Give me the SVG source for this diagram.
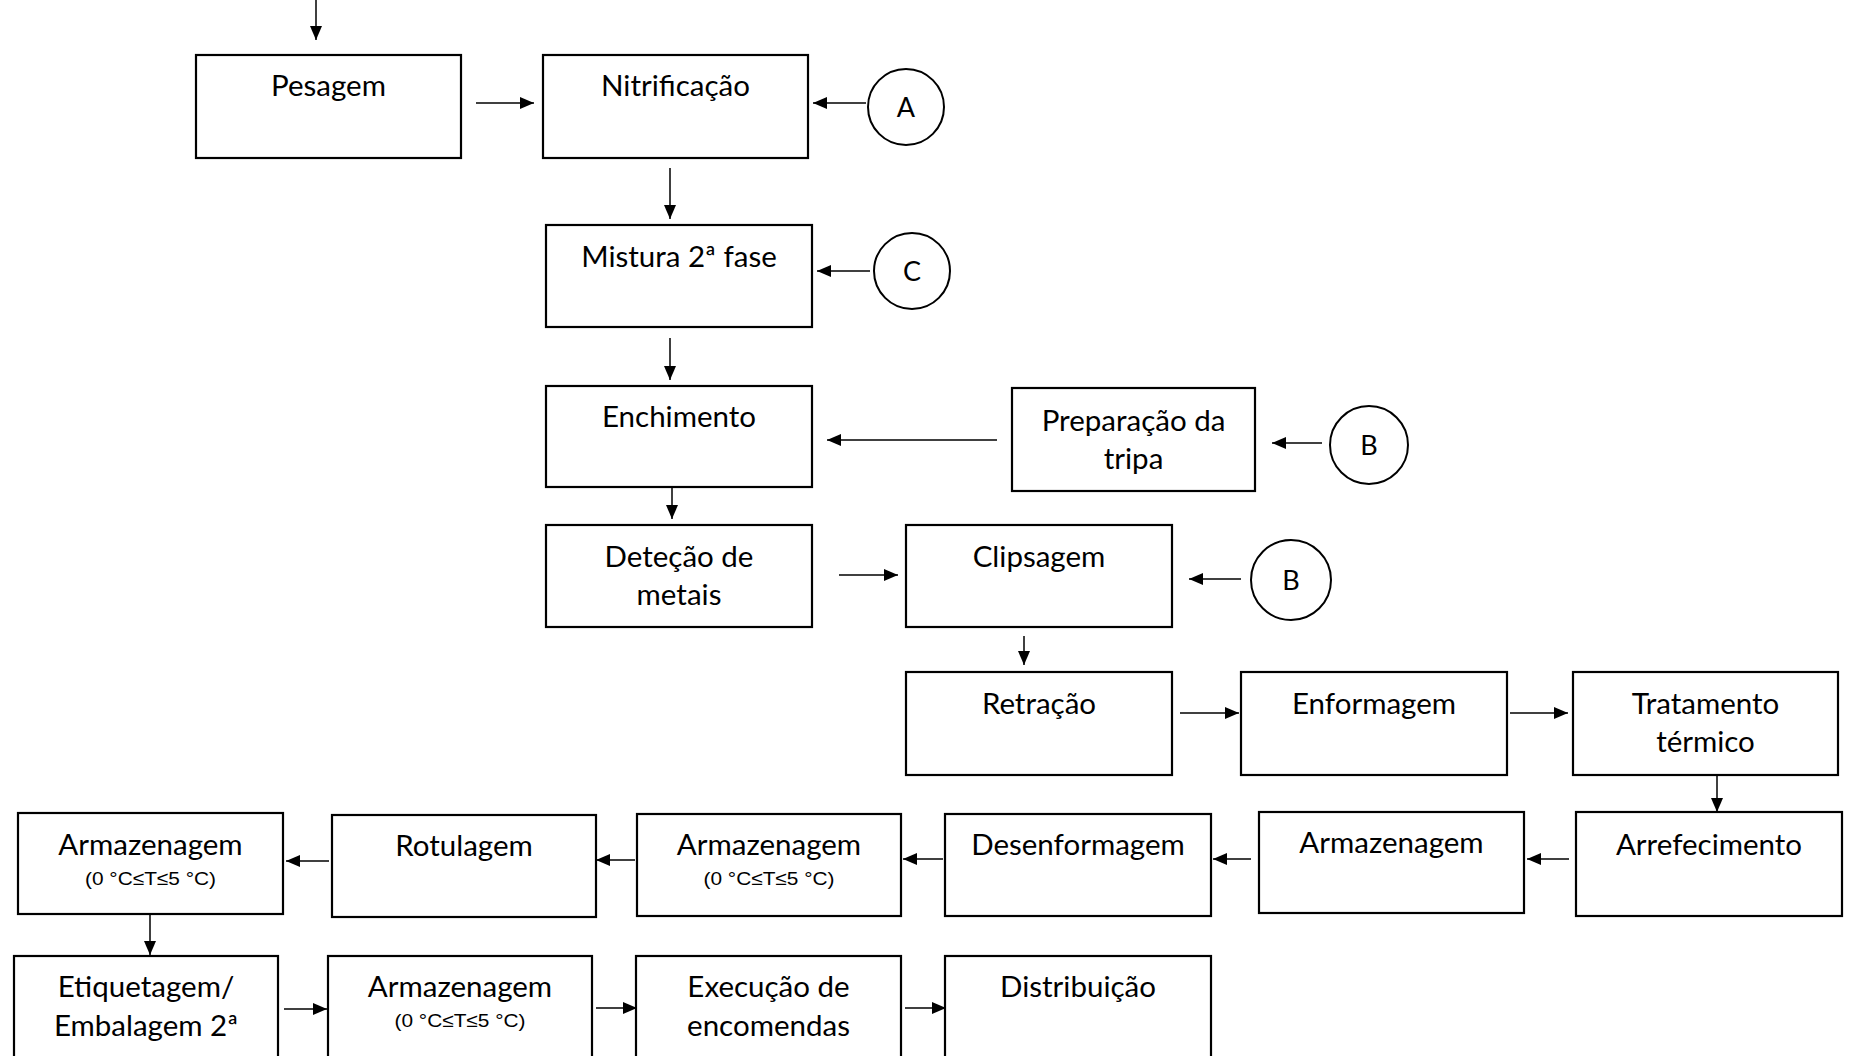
<svg xmlns="http://www.w3.org/2000/svg" width="1850" height="1056" viewBox="0 0 1850 1056">
<defs>
<marker id="ah" markerWidth="14" markerHeight="12" refX="14" refY="6" orient="auto" markerUnits="userSpaceOnUse">
<path d="M0,0 L14,6 L0,12 Z" fill="#000"/>
</marker>
<style>
.box{fill:#fff;stroke:#000;stroke-width:2.2}
.circ{fill:#fff;stroke:#000;stroke-width:2}
.t{font-family:Lato,"Open Sans",sans-serif;font-size:29.5px;fill:#000;text-anchor:middle}
.l{font-size:27px}
.s{font-family:"Liberation Sans",Arial,sans-serif;font-size:19px;fill:#000;text-anchor:middle}
.c{stroke:#000;stroke-width:1.5;fill:none;marker-end:url(#ah)}
</style>
</defs>
<rect width="1850" height="1056" fill="#fff"/>
<g id="connectors">
<line class="c" x1="316" y1="0" x2="316" y2="40"/>
<line class="c" x1="476" y1="103" x2="534" y2="103"/>
<line class="c" x1="866" y1="103" x2="813" y2="103"/>
<line class="c" x1="670" y1="168" x2="670" y2="219"/>
<line class="c" x1="870" y1="271" x2="817" y2="271"/>
<line class="c" x1="670" y1="338" x2="670" y2="380"/>
<line class="c" x1="997" y1="440" x2="827" y2="440"/>
<line class="c" x1="1322" y1="443" x2="1272" y2="443"/>
<line class="c" x1="672" y1="487" x2="672" y2="519"/>
<line class="c" x1="839" y1="575" x2="898" y2="575"/>
<line class="c" x1="1241" y1="579" x2="1189" y2="579"/>
<line class="c" x1="1024" y1="636" x2="1024" y2="665"/>
<line class="c" x1="1180" y1="713" x2="1239" y2="713"/>
<line class="c" x1="1510" y1="713" x2="1568" y2="713"/>
<line class="c" x1="1717" y1="775" x2="1717" y2="812"/>
<line class="c" x1="1569" y1="859" x2="1527" y2="859"/>
<line class="c" x1="1251" y1="859" x2="1213" y2="859"/>
<line class="c" x1="943" y1="859" x2="903" y2="859"/>
<line class="c" x1="635" y1="860" x2="596" y2="860"/>
<line class="c" x1="329" y1="861" x2="286" y2="861"/>
<line class="c" x1="150" y1="914" x2="150" y2="955"/>
<line class="c" x1="284" y1="1009" x2="327" y2="1009"/>
<line class="c" x1="596" y1="1008" x2="637" y2="1008"/>
<line class="c" x1="905" y1="1008" x2="946" y2="1008"/>
</g>
<g id="pesagem"><rect class="box" x="196" y="55" width="265" height="103"/><text class="t" x="328.5" y="96">Pesagem</text></g>
<g id="nitrificacao"><rect class="box" x="543" y="55" width="265" height="103"/><text class="t" x="675.5" y="96">Nitrificação</text></g>
<g id="circA"><circle class="circ" cx="906" cy="107" r="38"/><text class="t l" x="906" y="117">A</text></g>
<g id="mistura"><rect class="box" x="546" y="225" width="266" height="102"/><text class="t" x="679" y="267">Mistura 2ª fase</text></g>
<g id="circC"><circle class="circ" cx="912" cy="271" r="38"/><text class="t l" x="912" y="281">C</text></g>
<g id="enchimento"><rect class="box" x="546" y="386" width="266" height="101"/><text class="t" x="679" y="427">Enchimento</text></g>
<g id="preparacao"><rect class="box" x="1012" y="388" width="243" height="103"/><text class="t" x="1133.5" y="431">Preparação da</text><text class="t" x="1133.5" y="469">tripa</text></g>
<g id="circB1"><circle class="circ" cx="1369" cy="445" r="39"/><text class="t l" x="1369" y="455">B</text></g>
<g id="detecao"><rect class="box" x="546" y="525" width="266" height="102"/><text class="t" x="679" y="567">Deteção de</text><text class="t" x="679" y="605">metais</text></g>
<g id="clipsagem"><rect class="box" x="906" y="525" width="266" height="102"/><text class="t" x="1039" y="567">Clipsagem</text></g>
<g id="circB2"><circle class="circ" cx="1291" cy="580" r="40"/><text class="t l" x="1291" y="590">B</text></g>
<g id="retracao"><rect class="box" x="906" y="672" width="266" height="103"/><text class="t" x="1039" y="714">Retração</text></g>
<g id="enformagem"><rect class="box" x="1241" y="672" width="266" height="103"/><text class="t" x="1374" y="714">Enformagem</text></g>
<g id="tratamento"><rect class="box" x="1573" y="672" width="265" height="103"/><text class="t" x="1705.5" y="714">Tratamento</text><text class="t" x="1705.5" y="752">térmico</text></g>
<g id="arrefecimento"><rect class="box" x="1576" y="812" width="266" height="104"/><text class="t" x="1709" y="855">Arrefecimento</text></g>
<g id="armazenagem3"><rect class="box" x="1259" y="812" width="265" height="101"/><text class="t" x="1391.5" y="853">Armazenagem</text></g>
<g id="desenformagem"><rect class="box" x="945" y="814" width="266" height="102"/><text class="t" x="1078" y="855">Desenformagem</text></g>
<g id="armazenagem2"><rect class="box" x="637" y="814" width="264" height="102"/><text class="t" x="769" y="855">Armazenagem</text><text class="s" x="769" y="885" textLength="131" lengthAdjust="spacingAndGlyphs">(0 °C≤T≤5 °C)</text></g>
<g id="rotulagem"><rect class="box" x="332" y="815" width="264" height="102"/><text class="t" x="464" y="856">Rotulagem</text></g>
<g id="armazenagem1"><rect class="box" x="18" y="813" width="265" height="101"/><text class="t" x="150.5" y="855">Armazenagem</text><text class="s" x="150.5" y="885" textLength="131" lengthAdjust="spacingAndGlyphs">(0 °C≤T≤5 °C)</text></g>
<g id="etiquetagem"><rect class="box" x="14" y="956" width="264" height="110"/><text class="t" x="146" y="997">Etiquetagem/</text><text class="t" x="146" y="1036">Embalagem 2ª</text></g>
<g id="armazenagem4"><rect class="box" x="328" y="956" width="264" height="110"/><text class="t" x="460" y="997">Armazenagem</text><text class="s" x="460" y="1027" textLength="131" lengthAdjust="spacingAndGlyphs">(0 °C≤T≤5 °C)</text></g>
<g id="execucao"><rect class="box" x="636" y="956" width="265" height="110"/><text class="t" x="768.5" y="997">Execução de</text><text class="t" x="768.5" y="1036">encomendas</text></g>
<g id="distribuicao"><rect class="box" x="945" y="956" width="266" height="110"/><text class="t" x="1078" y="997">Distribuição</text></g>
</svg>
